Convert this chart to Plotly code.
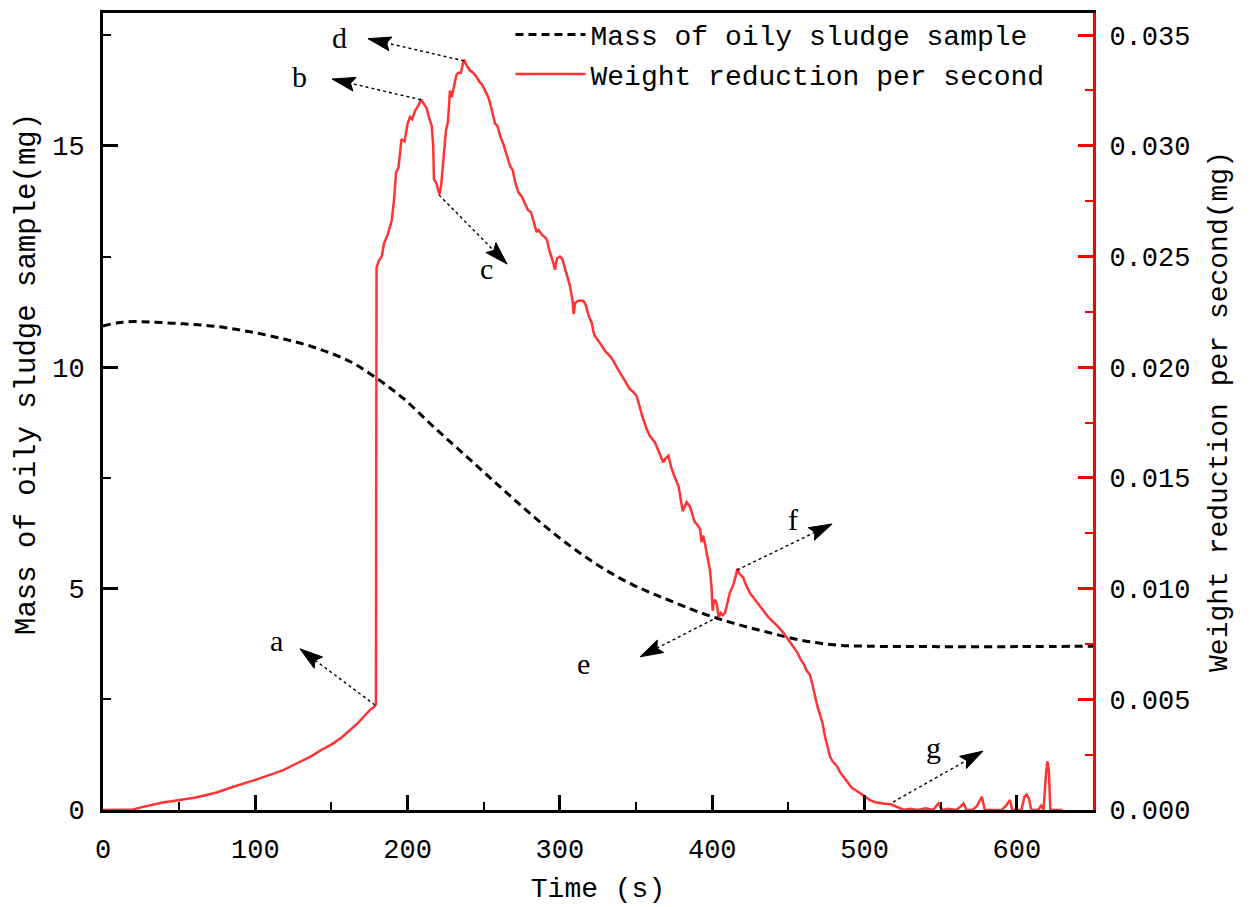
import math
import plotly.graph_objects as go

# ---------------- data ----------------
red_t = [0, 5, 10, 15, 20, 25, 30, 35, 40, 45, 50, 55, 60, 68, 75, 85.6, 93, 100, 110, 118.4, 127, 136, 143, 151,
         157, 162, 167, 171, 175, 178.6, 179.2, 179.6, 181, 183, 184.5, 187, 189.5, 191, 192.4, 194, 196, 198, 200,
         201.6, 203, 205, 207, 208.8, 210.5, 212.5, 214, 215.8, 216.8, 217.3, 219, 220.8, 222, 223, 224.3, 225.2,
         226.5, 227.8, 229, 230, 232, 233.3, 235, 237, 239, 241, 243, 245.4, 247, 248.6, 251, 253, 255, 257.4, 259,
         261, 262.8, 265, 267.2, 269, 270.5, 272.7, 275, 277, 279, 281, 283, 284.7, 286, 288, 291.3, 293, 295.7,
         296.8, 298, 300, 301.5, 303, 304.5, 306.5, 308.3, 309, 310, 312, 315.4, 317, 319, 320.9, 322, 323, 325.2,
         328, 330, 332.9, 335, 337.3, 340, 342.7, 344, 346, 348, 350.4, 352, 354, 357, 359, 362.4, 364, 366, 367.9,
         369.5, 371.2, 373, 375, 376.7, 378, 380.6, 383.2, 385.4, 387, 388.5, 390, 392, 393, 394, 395.3, 397, 398.6,
         399.6, 400.3, 401, 401.8, 403, 404.2, 405.5, 407, 408.4, 410, 411.5, 412.8, 414, 415.5, 416.5, 417.5, 419,
         420.4, 422, 423.5, 424.8, 427, 429.2, 431, 433, 434.7, 437, 440, 443, 446.7, 450, 453.2, 456, 458, 460, 462,
         464.2, 466, 467.5, 469, 470.8, 472.5, 474.1, 475.5, 477.4, 479, 481.7, 484, 486, 489, 491.6, 494, 497, 500,
         503.6, 507, 510, 513, 516.7, 520, 523.3, 526, 530, 535, 540, 545, 548.5, 551, 555, 560, 563, 565, 567, 571,
         574, 577, 579, 585, 590, 593, 595.5, 597, 600, 603, 605, 606.5, 608, 609.5, 612, 614, 616, 617.5, 619, 620,
         621, 622, 625, 630]
red_w = [0, 0, 0, 0, 0.00002, 0.00012, 0.0002, 0.0003, 0.00035, 0.0004, 0.00045, 0.0005, 0.00055, 0.00068, 0.0008,
         0.00105, 0.0012, 0.00136, 0.0016, 0.0018, 0.0021, 0.0024, 0.0027, 0.0030, 0.0033, 0.0036, 0.0039, 0.0042,
         0.0045, 0.0047, 0.0048, 0.0245, 0.0248, 0.0250, 0.0256, 0.0260, 0.0266, 0.0275, 0.0288, 0.0290, 0.0303,
         0.0302, 0.0310, 0.0313, 0.0312, 0.0316, 0.0318, 0.0321, 0.0319, 0.0317, 0.0313, 0.0309, 0.0300, 0.0285,
         0.0283, 0.0278, 0.0282, 0.0290, 0.0300, 0.0307, 0.0311, 0.0325, 0.0322, 0.0326, 0.0332, 0.0333, 0.0333,
         0.0339, 0.0336, 0.0334, 0.0333, 0.0331, 0.0329, 0.0328, 0.0325, 0.0322, 0.0317, 0.0310, 0.0309, 0.0304,
         0.0301, 0.0296, 0.0291, 0.0289, 0.0284, 0.0279, 0.0277, 0.0274, 0.0271, 0.0270, 0.0265, 0.0261, 0.0262,
         0.0260, 0.0258, 0.0253, 0.0247, 0.0244, 0.0249, 0.0250, 0.0249, 0.0245, 0.0242, 0.0237, 0.0230, 0.0224,
         0.0229, 0.0230, 0.0230, 0.0228, 0.0223, 0.0220, 0.0216, 0.0214, 0.0212, 0.0209, 0.0207, 0.0205, 0.0203,
         0.0200, 0.0197, 0.0194, 0.0192, 0.0190, 0.0189, 0.0187, 0.0183, 0.0178, 0.0172, 0.0169, 0.0166, 0.0163,
         0.0160, 0.0157, 0.0159, 0.0160, 0.0155, 0.0151, 0.0148, 0.0146, 0.0135, 0.0139, 0.0137, 0.0133, 0.0130,
         0.0129, 0.0127, 0.0121, 0.0124, 0.0120, 0.0113, 0.0108, 0.0100, 0.0090, 0.0094, 0.0095, 0.0093, 0.0087,
         0.0089, 0.0088, 0.0089, 0.0094, 0.0098, 0.0100, 0.0102, 0.0106, 0.0109, 0.0107, 0.0106, 0.0105, 0.0102,
         0.0100, 0.0098, 0.0096, 0.0094, 0.0092, 0.0090, 0.0089, 0.0087, 0.0085, 0.0083, 0.0080, 0.0077, 0.0074,
         0.0071, 0.0068, 0.0066, 0.0063, 0.0061, 0.0056, 0.0051, 0.0047, 0.0043, 0.0039, 0.0033, 0.0029, 0.0024,
         0.0022, 0.0020, 0.0017, 0.0015, 0.0012, 0.0010, 0.0009, 0.00075, 0.0006, 0.00045, 0.00035, 0.0003, 0.00028,
         0.00027, 0.00018, 0.0001, 0.0, 0.00005, 0.0, 0.00008, 0.0, 0.0003, 0.0, 0.00005, 0.0, 0.00015, 0.0003, 0.0,
         0.0, 0.0002, 0.0006, 0.0, 0.0, 0.0, 0.0002, 0.00045, 0.0, 0.0, 0.0, 0.0006, 0.0007, 0.0005, 0.0, 0.0, 0.0,
         0.0002, 0.0, 0.0015, 0.0022, 0.0018, 0.0, 0.0, 0.0]

mass_t = [0, 9, 20, 31, 52.7, 74.6, 96.5, 118.4, 140.3, 162.2, 179.7, 197, 216.9, 238.8, 260.7, 282.6, 304.5,
          326.3, 348.2, 370, 392, 413.8, 435.8, 457.6, 479.5, 501.4, 545, 600, 650]
mass_m = [10.93, 11.00, 11.03, 11.02, 10.98, 10.92, 10.80, 10.64, 10.43, 10.13, 9.75, 9.30, 8.66, 7.98, 7.30,
          6.63, 6.02, 5.50, 5.08, 4.76, 4.46, 4.22, 4.02, 3.84, 3.73, 3.70, 3.69, 3.69, 3.70]

ann_labels = ["a", "b", "c", "d", "e", "f", "g"]
ann_tail_t = [178.6, 208.8, 220.6, 237.0, 403.8, 416.3, 518.7]
ann_tail_m = [2.37, 16.04, 13.89, 16.92, 4.36, 5.42, 0.18]
ann_tip_t = [129.3, 150.4, 265.3, 174.0, 352.6, 478.7, 577.8]
ann_tip_m = [3.64, 16.51, 12.33, 17.42, 3.46, 6.46, 1.33]
ann_text_t = [114.2, 129.3, 252.1, 155.6, 315.2, 453.1, 545.0]
ann_text_m = [3.82, 16.56, 12.24, 17.44, 3.32, 6.57, 1.42]

x_ticks = [0, 100, 200, 300, 400, 500, 600]
y_ticks = [0, 5, 10, 15]
y2_ticks = [0.0, 0.005, 0.010, 0.015, 0.020, 0.025, 0.030, 0.035]

# ---------------- layout constants ----------------
W, H = 1251, 907
ML, MR, MT, MB = 103, 158, 13, 97
XR = [0, 650]
YR = [0, 18]
Y2R = [0, 0.036]
plot_w = W - ML - MR
plot_h = H - MT - MB
ppx = plot_w / (XR[1] - XR[0])
ppy = plot_h / (YR[1] - YR[0])

MONO = "Liberation Mono"
RED = "#ff3333"

fig = go.Figure()
fig.add_trace(go.Scatter(x=mass_t, y=mass_m, mode="lines", name="Mass of oily sludge sample",
                         line=dict(color="black", width=3, dash="8px,5px", shape="spline", smoothing=1.0)))
fig.add_trace(go.Scatter(x=red_t, y=red_w, mode="lines", name="Weight reduction per second", yaxis="y2",
                         line=dict(color=RED, width=2.5)))

shapes = []
annotations = []
for lab, t0, m0, t1, m1, tt, tm in zip(ann_labels, ann_tail_t, ann_tail_m, ann_tip_t, ann_tip_m,
                                        ann_text_t, ann_text_m):
    dx = (t1 - t0) * ppx
    dy = -(m1 - m0) * ppy
    L = math.hypot(dx, dy)
    ux, uy = dx / L, dy / L
    nx, ny = -uy, ux
    head_len, half_w, notch = 23, 7, 4

    def to_data(px_off, py_off):
        return t1 + px_off / ppx, m1 - py_off / ppy

    bx, by = -ux * head_len, -uy * head_len
    p1 = to_data(bx + nx * half_w, by + ny * half_w)
    p2 = to_data(bx - nx * half_w, by - ny * half_w)
    pn = to_data(bx + ux * notch, by + uy * notch)
    shapes.append(dict(type="line", xref="x", yref="y", x0=t0, y0=m0, x1=pn[0], y1=pn[1],
                       line=dict(color="black", width=1.4, dash="dot")))
    path = "M{:.4f},{:.4f} L{:.4f},{:.4f} L{:.4f},{:.4f} L{:.4f},{:.4f} Z".format(
        t1, m1, p1[0], p1[1], pn[0], pn[1], p2[0], p2[1])
    shapes.append(dict(type="path", xref="x", yref="y", path=path, fillcolor="black",
                       line=dict(color="black", width=1)))
    annotations.append(dict(x=tt, y=tm, xref="x", yref="y", text=lab, showarrow=False,
                            font=dict(family="Liberation Serif", size=30, color="black")))

# left axis title (placed off-centre, as in the reference)
annotations.append(dict(x=(27 - ML) / plot_w, y=(H - 374 - MB) / plot_h, xref="paper", yref="paper",
                        text="Mass of oily sludge sample(mg)", showarrow=False, textangle=-90,
                        xanchor="center", yanchor="middle", font=dict(family=MONO, size=29, color="black")))

fig.update_layout(
    width=W, height=H,
    margin=dict(l=ML, r=MR, t=MT, b=MB, autoexpand=False),
    paper_bgcolor="white", plot_bgcolor="white",
    font=dict(family=MONO, size=27, color="black"),
    showlegend=True,
    legend=dict(x=0.4116, y=1.004, xanchor="left", yanchor="top", bgcolor="rgba(0,0,0,0)",
                font=dict(family=MONO, size=28, color="black"), itemwidth=70, tracegroupgap=0),
    xaxis=dict(range=XR, tickvals=x_ticks, ticks="inside", ticklen=15, tickwidth=2.5, tickcolor="black",
               showline=True, linewidth=3, linecolor="black", mirror=True, showgrid=False, zeroline=False,
               minor=dict(dtick=50, ticks="inside", ticklen=8, tickwidth=2, tickcolor="black"),
               title=dict(text="Time (s)", font=dict(family=MONO, size=28), standoff=12),
               ticklabelstandoff=13, tickfont=dict(family=MONO, size=27), automargin=False),
    yaxis=dict(range=YR, tickvals=y_ticks, ticks="inside", ticklen=15, tickwidth=2.5, tickcolor="black",
               showline=True, linewidth=3, linecolor="black", showgrid=False, zeroline=False,
               minor=dict(dtick=2.5, ticks="inside", ticklen=8, tickwidth=2, tickcolor="black"),
               ticklabelstandoff=10, tickfont=dict(family=MONO, size=27), automargin=False),
    yaxis2=dict(range=Y2R, tickvals=y2_ticks, tickformat=".3f", overlaying="y", side="right",
                ticks="inside", ticklen=15, tickwidth=2.5, tickcolor="red",
                showline=True, linewidth=3, linecolor="red", showgrid=False, zeroline=False,
                minor=dict(dtick=0.0025, ticks="inside", ticklen=8, tickwidth=2, tickcolor="red"),
                title=dict(text="Weight reduction per second(mg)", font=dict(family=MONO, size=28), standoff=18),
                ticklabelstandoff=8, tickfont=dict(family=MONO, size=27), automargin=False),
    shapes=shapes,
    annotations=annotations,
)

fig.write_html("out.html")
